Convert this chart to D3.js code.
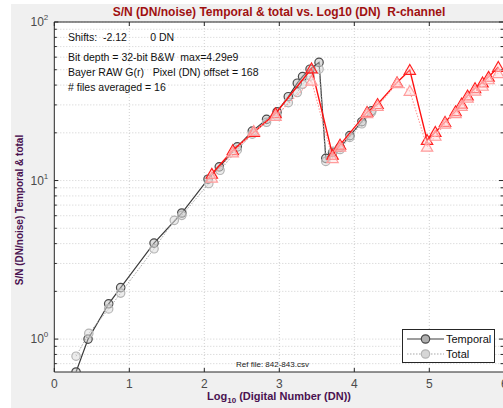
<!DOCTYPE html>
<html>
<head>
<meta charset="utf-8">
<script src="https://cdn.jsdelivr.net/npm/d3@7"></script>
<style>
  body { margin: 0; background: #fff; }
  svg { display: block; font-family: "Liberation Sans", Arial, sans-serif; }
</style>
</head>
<body>
<div class="chart"></div>
<script>
// gray series (circles)
const tempX = [0.29, 0.45, 0.725, 0.885, 1.33, 1.70, 2.05, 2.20, 2.44, 2.64, 2.83, 2.97, 3.12, 3.24, 3.31, 3.41, 3.53, 3.62, 3.71, 3.81, 3.94, 4.10, 4.23];
const tempY = [0.62, 1.0, 1.67, 2.11, 4.03, 6.24, 10.2, 12.2, 16.3, 20.5, 24.3, 27.1, 33.8, 41.1, 45.3, 50.4, 55.6, 13.8, 15.0, 16.2, 19.2, 23.5, 27.5];
const totX = [0.29, 0.46, 0.725, 0.885, 1.33, 1.60, 1.70, 2.06, 2.21, 2.44, 2.64, 2.83, 2.97, 3.12, 3.24, 3.31, 3.41, 3.53, 3.62, 3.72, 3.81, 3.94, 4.10, 4.23];
const totY = [0.78, 1.086, 1.55, 1.95, 3.71, 5.61, 6.03, 9.57, 11.6, 15.6, 19.6, 23.3, 25.5, 31.0, 35.9, 40.5, 45.5, 50.4, 13.2, 15.3, 15.7, 18.7, 22.8, 27.0];
// red series (triangles)
const redX = [2.10, 2.38, 2.66, 2.95, 3.43, 3.71, 3.81, 4.17, 4.31, 4.57, 4.74, 4.97, 5.08, 5.21, 5.35, 5.43, 5.51, 5.61, 5.71, 5.79, 5.92];
const redTempY = [11.0, 15.5, 20.2, 26.5, 50.9, 14.5, 16.8, 27.0, 30.3, 41.5, 49.8, 18.0, 20.2, 23.4, 27.3, 30.5, 34.3, 38.2, 41.5, 45.0, 52.0];
const redTotY = [10.4, 15.0, 20.5, 25.5, 42.5, 13.8, 16.3, 26.5, 29.5, 41.0, 36.7, 16.3, 19.1, 22.8, 26.5, 29.5, 33.2, 36.8, 39.5, 43.4, 47.5];

const xTicks = [0, 1, 2, 3, 4, 5, 6];
const yDecades = [1, 10, 100];
const yExp = ["0", "1", "2"];
const infoLines = ["Bit depth = 32-bit B&W  max=4.29e9", "Bayer RAW G(r)   Pixel (DN) offset = 168", "# files averaged = 16"];
const legendNames = ["Temporal", "Total"];

const W = 503, H = 408;
const margin = { top: 22, left: 54.3, bottom: 36 };
const plotH = H - margin.top - margin.bottom;

const svg = d3.select(".chart").append("svg").attr("width", W).attr("height", H);

svg.append("rect").attr("x", 11).attr("y", 4).attr("width", W - 11).attr("height", H - 4).attr("fill", "#f0f0f0");

const x = d3.scaleLinear().domain([0, 6]).range([margin.left, margin.left + 450]);
const y = d3.scaleLog().domain([0.62, 100]).range([margin.top + plotH, margin.top]);

const x0 = x(0), x1 = W, y0 = y.range()[0], y1 = y.range()[1];

svg.append("rect").attr("x", x0).attr("y", y1).attr("width", x1 - x0).attr("height", y0 - y1).attr("fill", "#fff");

// grid
const minorVals = [];
[0.1, 1, 10].forEach(d => { for (let k = 1; k <= 9; k++) { const v = d * k; if (v >= 0.62 && v <= 100) minorVals.push(v); } });
minorVals.push(100);
const grid = svg.append("g").attr("stroke", "#c4c4c4").attr("stroke-width", 0.8).attr("stroke-dasharray", "1,2");
grid.selectAll(".gy").data(minorVals).enter().append("line")
  .attr("x1", x0).attr("x2", x1).attr("y1", d => y(d)).attr("y2", d => y(d));
grid.selectAll(".gx").data(xTicks.slice(1)).enter().append("line")
  .attr("x1", d => x(d)).attr("x2", d => x(d)).attr("y1", y1).attr("y2", y0);

// axes frame
const frame = svg.append("g").attr("stroke", "#262626").attr("stroke-width", 1);
frame.append("line").attr("x1", x0).attr("x2", x1).attr("y1", y0).attr("y2", y0);
frame.append("line").attr("x1", x0).attr("x2", x1).attr("y1", y1).attr("y2", y1);
frame.append("line").attr("x1", x0).attr("x2", x0).attr("y1", y1).attr("y2", y0);
xTicks.forEach(t => {
  frame.append("line").attr("x1", x(t)).attr("x2", x(t)).attr("y1", y0).attr("y2", y0 - 4);
  frame.append("line").attr("x1", x(t)).attr("x2", x(t)).attr("y1", y1).attr("y2", y1 + 4);
});
minorVals.forEach(v => {
  const len = yDecades.includes(v) ? 4 : 2.5;
  frame.append("line").attr("x1", x0).attr("x2", x0 + len).attr("y1", y(v)).attr("y2", y(v));
  frame.append("line").attr("x1", x1).attr("x2", x1 - len).attr("y1", y(v)).attr("y2", y(v));
});

// tick labels
svg.append("g").selectAll("text").data(xTicks).enter().append("text")
  .attr("x", d => x(d)).attr("y", y0 + 16).attr("text-anchor", "middle")
  .attr("font-size", 12).attr("fill", "#4a4a4a").text(d => d);
const yl = svg.append("g").selectAll("text").data(yDecades).enter().append("text")
  .attr("x", x0 - 6).attr("y", d => y(d) + 4).attr("text-anchor", "end")
  .attr("font-size", 12).attr("fill", "#4a4a4a");
yl.append("tspan").text("10");
yl.append("tspan").attr("dy", -6).attr("font-size", 8).text((d, i) => yExp[i]);

// data
const plot = svg.append("g");
svg.append("clipPath").attr("id", "clip").append("rect")
  .attr("x", x0).attr("y", y1).attr("width", x1 - x0).attr("height", y0 - y1);
plot.attr("clip-path", "url(#clip)");

const line = d3.line().x(d => x(d[0])).y(d => y(d[1]));
const zip = (a, b) => a.map((v, i) => [v, b[i]]);
const tri = d3.symbol().type(d3.symbolTriangle).size(56);

function series(pts, o) {
  plot.append("path").datum(pts).attr("d", line).attr("fill", "none")
    .attr("stroke", o.line).attr("stroke-width", o.lw).attr("stroke-dasharray", o.dash || null);
  if (o.shape === "circle") {
    plot.selectAll(null).data(pts).enter().append("circle")
      .attr("cx", d => x(d[0])).attr("cy", d => y(d[1])).attr("r", 4.2)
      .attr("fill", o.fill).attr("fill-opacity", o.fo).attr("stroke", o.edge).attr("stroke-width", 1.2);
  } else {
    plot.selectAll(null).data(pts).enter().append("path")
      .attr("d", tri).attr("transform", d => `translate(${x(d[0])},${y(d[1]) + 1})`)
      .attr("fill", o.fill).attr("fill-opacity", o.fo).attr("stroke", o.edge).attr("stroke-width", 1.2);
  }
}

series(zip(tempX, tempY), { shape: "circle", line: "#3c3c3c", lw: 1.2, edge: "#4a4a4a", fill: "#b8b8b8", fo: 0.45 });
series(zip(totX, totY), { shape: "circle", line: "#a8a8a8", lw: 1, dash: "1.5,1.5", edge: "#b4b4b4", fill: "#dadada", fo: 0.5 });
series(zip(redX, redTempY), { shape: "tri", line: "#ff1010", lw: 1.4, edge: "#ff2020", fill: "#ffc8c8", fo: 0.35 });
series(zip(redX, redTotY), { shape: "tri", line: "#ff9a9a", lw: 1.1, dash: "1.5,1.5", edge: "#ff9c9c", fill: "#ffdede", fo: 0.5 });

// annotation text
svg.append("text").attr("x", 68).attr("y", 41).attr("font-size", 10.5).attr("fill", "#111")
  .attr("xml:space", "preserve").text("Shifts:  -2.12        0 DN");
svg.append("g").selectAll("text").data(infoLines).enter().append("text")
  .attr("x", 68).attr("y", (d, i) => 61 + i * 15).attr("font-size", 10.5).attr("fill", "#111")
  .attr("xml:space", "preserve").text(d => d);
svg.append("text").attr("x", 236).attr("y", 367).attr("font-size", 8).attr("fill", "#222").text("Ref file: 842-843.csv");

// legend
const lg = svg.append("g");
lg.append("rect").attr("x", 402.5).attr("y", 329.5).attr("width", 92).attr("height", 33)
  .attr("fill", "#fff").attr("stroke", "#262626").attr("stroke-width", 1);
const legStyles = [
  { line: "#3c3c3c", dash: null, edge: "#4a4a4a", fill: "#b0b0b0" },
  { line: "#a8a8a8", dash: "1.5,1.5", edge: "#b4b4b4", fill: "#d6d6d6" }
];
legendNames.forEach((n, i) => {
  const ly = 339 + i * 15;
  lg.append("line").attr("x1", 407).attr("x2", 444).attr("y1", ly).attr("y2", ly)
    .attr("stroke", legStyles[i].line).attr("stroke-width", 1.2).attr("stroke-dasharray", legStyles[i].dash);
  lg.append("circle").attr("cx", 425.5).attr("cy", ly).attr("r", 4.2)
    .attr("fill", legStyles[i].fill).attr("stroke", legStyles[i].edge).attr("stroke-width", 1.2);
  lg.append("text").attr("x", 446).attr("y", ly + 4).attr("font-size", 11).attr("fill", "#111").text(n);
});

// titles
svg.append("text").attr("x", 279).attr("y", 16).attr("text-anchor", "middle")
  .attr("font-size", 12).attr("font-weight", "bold").attr("fill", "#a01010")
  .attr("xml:space", "preserve").text("S/N (DN/noise) Temporal & total vs. Log10 (DN)  R-channel");
const xl = svg.append("text").attr("x", 279).attr("y", 400).attr("text-anchor", "middle")
  .attr("font-size", 11).attr("font-weight", "bold").attr("fill", "#4a1250");
xl.append("tspan").text("Log");
xl.append("tspan").attr("dy", 3).attr("font-size", 8).text("10");
xl.append("tspan").attr("dy", -3).text(" (Digital Number (DN))");
svg.append("text").attr("transform", `translate(23,210) rotate(-90)`)
  .attr("text-anchor", "middle").attr("font-size", 10).attr("font-weight", "bold").attr("fill", "#4a1250")
  .text("S/N (DN/noise) Temporal & total");
</script>
</body>
</html>
